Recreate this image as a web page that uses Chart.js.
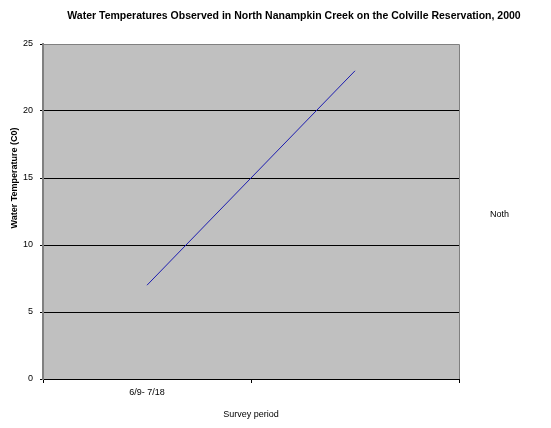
<!DOCTYPE html>
<html>
<head>
<meta charset="utf-8">
<script src="https://cdn.jsdelivr.net/npm/chart.js@4"></script>
<style>
  html, body { margin: 0; padding: 0; background: #fff; }
  #wrap { width: 551px; height: 428px; }
</style>
</head>
<body>
<div id="wrap"><canvas id="chart" width="551" height="428"></canvas></div>
<script>
const chartTitle = "Water Temperatures Observed in North Nanampkin Creek on the Colville Reservation, 2000";
const categories = ["6/9- 7/18", ""];
const seriesName = "Noth";
const temps = [7, 23];
const yTicks = [0, 5, 10, 15, 20, 25];
const yTitle = "Water Temperature (C0)";
const xTitle = "Survey period";

const fontFamily = "'Liberation Sans', Arial, sans-serif";

// gray plot background + thin border on top/right, plus the loose texts
const decor = {
    id: "decor",
    beforeDraw(chart) {
        const { ctx, chartArea: a } = chart;
        ctx.save();
        ctx.fillStyle = "#c0c0c0";
        ctx.fillRect(a.left, a.top, a.right - a.left, a.bottom - a.top);
        ctx.strokeStyle = "#808080";
        ctx.lineWidth = 1;
        ctx.beginPath();
        ctx.moveTo(a.left, a.top + 0.5);
        ctx.lineTo(a.right + 0.5, a.top + 0.5);
        ctx.lineTo(a.right + 0.5, a.bottom);
        ctx.stroke();
        ctx.restore();
    },
    afterDraw(chart) {
        const { ctx } = chart;
        ctx.save();
        ctx.fillStyle = "#000";
        ctx.textAlign = "center";
        ctx.textBaseline = "middle";
        ctx.font = "bold 10.5px " + fontFamily;
        ctx.fillText(chartTitle, 294, 16);

        ctx.translate(15, 178);
        ctx.rotate(-Math.PI / 2);
        ctx.font = "bold 9px " + fontFamily;
        ctx.fillText(yTitle, 0, 0);
        ctx.restore();

        ctx.save();
        ctx.fillStyle = "#000";
        ctx.font = "9px " + fontFamily;
        ctx.textAlign = "left";
        ctx.textBaseline = "middle";
        ctx.fillText(chart.data.datasets[0].label, 490, 215);
        ctx.restore();
    }
};

new Chart(document.getElementById("chart"), {
    type: "line",
    data: {
        labels: categories,
        datasets: [{
            label: seriesName,
            data: temps,
            borderColor: "#1c1cb0",
            borderWidth: 1,
            pointRadius: 0,
            fill: false,
            tension: 0
        }]
    },
    options: {
        responsive: false,
        animation: false,
        layout: { padding: { top: 44, right: 92, left: 0, bottom: 0 } },
        plugins: {
            legend: { display: false },
            title: { display: false },
            tooltip: { enabled: false }
        },
        scales: {
            x: {
                offset: true,
                afterFit(scale) { scale.height = 49; },
                grid: {
                    offset: true,
                    drawOnChartArea: false,
                    tickLength: 4,
                    tickColor: "#000"
                },
                border: { color: "#000", width: 1 },
                ticks: {
                    color: "#000",
                    padding: 4,
                    maxRotation: 0,
                    font: { family: fontFamily, size: 9 }
                },
                title: {
                    display: true,
                    text: xTitle,
                    color: "#000",
                    padding: { top: 0, bottom: 8 },
                    font: { family: fontFamily, size: 9 }
                }
            },
            y: {
                min: 0,
                max: 25,
                afterFit(scale) { scale.width = 43; },
                afterBuildTicks(scale) { scale.ticks = yTicks.map(v => ({ value: v })); },
                grid: {
                    color: ctx => (ctx.tick && ctx.tick.value > 0 && ctx.tick.value < 25) ? "#000" : "rgba(0,0,0,0)",
                    tickColor: "#000",
                    tickLength: 3,
                    lineWidth: 1
                },
                border: { color: "#808080", width: 2 },
                ticks: {
                    color: "#000",
                    padding: 7,
                    font: { family: fontFamily, size: 9 }
                }
            }
        }
    },
    plugins: [decor]
});
</script>
</body>
</html>
